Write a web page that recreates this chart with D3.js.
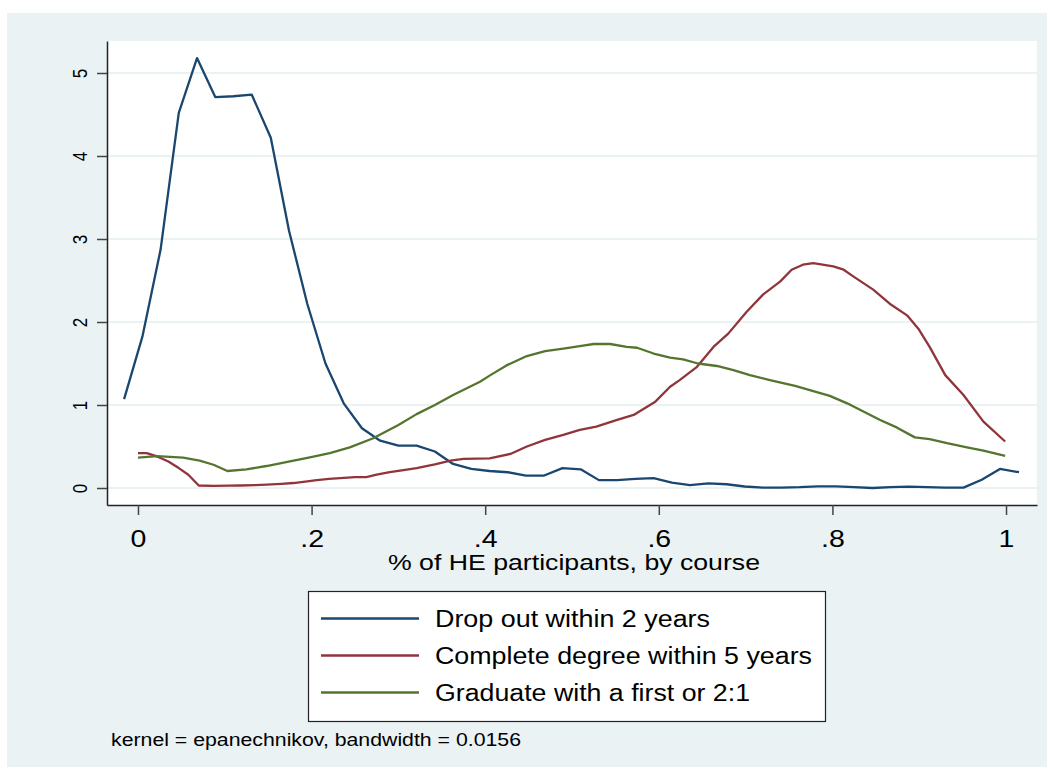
<!DOCTYPE html>
<html>
<head>
<meta charset="utf-8">
<script src="https://cdn.jsdelivr.net/npm/d3@7"></script>
<style>
  body { margin: 0; background: #fff; }
  svg { display: block; font-family: "Liberation Sans", Arial, sans-serif; }
</style>
</head>
<body>
<svg id="chart" width="1052" height="774"></svg>
<script>
// kernel density estimates
const dropX = [-0.016, 0.005, 0.026, 0.047, 0.068, 0.089, 0.110, 0.131, 0.153, 0.174,
  0.195, 0.216, 0.237, 0.258, 0.279, 0.300, 0.321, 0.342, 0.363, 0.384,
  0.405, 0.426, 0.447, 0.468, 0.489, 0.510, 0.531, 0.552, 0.573, 0.594,
  0.615, 0.636, 0.657, 0.678, 0.699, 0.720, 0.741, 0.762, 0.783, 0.804,
  0.825, 0.846, 0.867, 0.888, 0.909, 0.930, 0.951, 0.972, 0.993, 1.015]
const dropY = [1.07, 1.82, 2.87, 4.52, 5.18, 4.71, 4.72, 4.74, 4.22, 3.10,
  2.22, 1.50, 1.02, 0.72, 0.57, 0.51, 0.51, 0.44, 0.29, 0.23,
  0.205, 0.19, 0.15, 0.15, 0.24, 0.225, 0.095, 0.095, 0.11, 0.12,
  0.065, 0.035, 0.055, 0.045, 0.018, 0.005, 0.005, 0.01, 0.02, 0.02,
  0.01, 0.0, 0.01, 0.016, 0.01, 0.004, 0.004, 0.10, 0.23, 0.19]

const completeX = [0.000, 0.010, 0.022, 0.035, 0.047, 0.058, 0.070, 0.087, 0.105, 0.118,
  0.135, 0.148, 0.165, 0.179, 0.195, 0.206, 0.220, 0.233, 0.250, 0.263,
  0.275, 0.290, 0.302, 0.321, 0.342, 0.360, 0.375, 0.405, 0.429, 0.448,
  0.469, 0.490, 0.509, 0.528, 0.552, 0.571, 0.596, 0.613, 0.624, 0.644,
  0.663, 0.680, 0.701, 0.720, 0.740, 0.753, 0.766, 0.778, 0.801, 0.813,
  0.824, 0.847, 0.866, 0.886, 0.899, 0.912, 0.930, 0.951, 0.974, 0.999]
const completeY = [0.42, 0.42, 0.38, 0.32, 0.24, 0.16, 0.03, 0.025, 0.028, 0.03,
  0.035, 0.04, 0.05, 0.06, 0.08, 0.095, 0.11, 0.12, 0.13, 0.13,
  0.16, 0.19, 0.21, 0.24, 0.285, 0.33, 0.35, 0.357, 0.41, 0.50,
  0.58, 0.64, 0.70, 0.74, 0.82, 0.88, 1.04, 1.22, 1.30, 1.46,
  1.70, 1.86, 2.12, 2.33, 2.49, 2.63, 2.69, 2.71, 2.67, 2.63,
  2.55, 2.39, 2.22, 2.08, 1.92, 1.70, 1.36, 1.12, 0.80, 0.56]

const firstX = [0.000, 0.022, 0.052, 0.071, 0.087, 0.103, 0.125, 0.148, 0.175, 0.198,
  0.221, 0.244, 0.271, 0.300, 0.321, 0.342, 0.363, 0.394, 0.406, 0.425,
  0.448, 0.469, 0.490, 0.509, 0.525, 0.544, 0.563, 0.575, 0.594, 0.613,
  0.628, 0.645, 0.667, 0.686, 0.705, 0.728, 0.757, 0.774, 0.797, 0.817,
  0.834, 0.855, 0.874, 0.895, 0.912, 0.932, 0.955, 0.974, 0.999]
const firstY = [0.365, 0.385, 0.365, 0.33, 0.28, 0.205, 0.225, 0.265, 0.32, 0.37,
  0.42, 0.49, 0.60, 0.76, 0.89, 1.00, 1.12, 1.28, 1.36, 1.48,
  1.59, 1.65, 1.68, 1.71, 1.735, 1.735, 1.70, 1.69, 1.62, 1.57,
  1.55, 1.50, 1.47, 1.42, 1.36, 1.30, 1.23, 1.18, 1.11, 1.02,
  0.93, 0.82, 0.73, 0.61, 0.59, 0.54, 0.49, 0.45, 0.386]

const seriesNames = ['Drop out within 2 years', 'Complete degree within 5 years', 'Graduate with a first or 2:1']
const xTicks = [0, 0.2, 0.4, 0.6, 0.8, 1]
const xTickLabels = ['0', '.2', '.4', '.6', '.8', '1']
const yTicks = [0, 1, 2, 3, 4, 5]
const xTitle = '% of HE participants, by course'
const note = 'kernel = epanechnikov, bandwidth = 0.0156'

const colors = ['#1a476f', '#90353b', '#55752f'],
      bg = '#eaf2f3',
      stretch = 1.24   // the picture's text looks widened sideways

const svg = d3.select('#chart')

// outer stata-ish frame
svg.append('rect')
   .attr('x', 7).attr('y', 13)
   .attr('width', 1040).attr('height', 754)
   .style('fill', bg)

const plotLeft = 107, plotRight = 1037, plotTop = 41, plotBottom = 505

svg.append('rect')
   .attr('x', plotLeft).attr('y', plotTop)
   .attr('width', plotRight - plotLeft).attr('height', plotBottom - plotTop)
   .style('fill', '#fff')

//scales
const xScale = d3.scaleLinear()
                 .domain([-0.0357, 1.0357])
                 .range([plotLeft, plotRight])

const yScale = d3.scaleLinear()
                 .domain([-0.2048, 5.3855])
                 .range([plotBottom, plotTop])

//grid
svg.append('g')
   .selectAll('line')
   .data(yTicks)
   .join('line')
   .attr('x1', plotLeft).attr('x2', plotRight)
   .attr('y1', d => yScale(d)).attr('y2', d => yScale(d))
   .style('stroke', bg)
   .style('stroke-width', 2)

//axes
const xAxis = svg.append('g')
                 .attr('transform', `translate(0, ${plotBottom})`)
                 .call(d3.axisBottom(xScale)
                         .tickValues(xTicks)
                         .tickSize(10)
                         .tickSizeOuter(0)
                         .tickFormat((d, i) => xTickLabels[i]))
xAxis.select('.domain').style('stroke', '#222').style('stroke-width', 1.5)
xAxis.selectAll('.tick line').style('stroke', '#444').style('stroke-width', 1.5)
xAxis.selectAll('.tick text')
     .attr('y', 0).attr('dy', 0)
     .attr('transform', `translate(0, 41.5) scale(${stretch}, 1)`)
     .style('font-size', '23px')
     .style('fill', '#000')
     .style('font-family', '"Liberation Sans", Arial, sans-serif')

const yAxis = svg.append('g')
                 .attr('transform', `translate(${plotLeft}, 0)`)
                 .call(d3.axisLeft(yScale)
                         .tickValues(yTicks)
                         .tickSize(10)
                         .tickSizeOuter(0)
                         .tickFormat(d3.format('d')))
yAxis.select('.domain').style('stroke', '#222').style('stroke-width', 1.5)
yAxis.selectAll('.tick line').style('stroke', '#444').style('stroke-width', 1.5)
yAxis.selectAll('.tick text')
     .attr('x', null).attr('dy', null)
     .attr('transform', `translate(-20.3, 0) scale(${stretch}, 1) rotate(-90)`)
     .attr('text-anchor', 'middle')
     .style('font-size', '17px')
     .style('fill', '#000')
     .style('font-family', '"Liberation Sans", Arial, sans-serif')

svg.append('text')
   .attr('x', 574)
   .attr('y', 570)
   .attr('text-anchor', 'middle')
   .attr('textLength', 372)
   .attr('lengthAdjust', 'spacingAndGlyphs')
   .style('font-size', '22px')
   .text(xTitle)

//lines
const series = [
  {name: seriesNames[0], x: dropX, y: dropY, w: 275},
  {name: seriesNames[1], x: completeX, y: completeY, w: 377},
  {name: seriesNames[2], x: firstX, y: firstY, w: 315}
]

const line = d3.line()
               .x(d => xScale(d[0]))
               .y(d => yScale(d[1]))

svg.append('g')
   .selectAll('path')
   .data(series)
   .join('path')
   .attr('d', s => line(s.x.map((v, i) => [v, s.y[i]])))
   .style('fill', 'none')
   .style('stroke', (s, i) => colors[i])
   .style('stroke-width', 2.3)
   .style('stroke-linejoin', 'round')

//legend
svg.append('rect')
   .attr('x', 308.5).attr('y', 591.5)
   .attr('width', 517).attr('height', 130)
   .style('fill', '#fff')
   .style('stroke', '#222')
   .style('stroke-width', 1.2)

const rows = svg.append('g')
                .selectAll('g')
                .data(series)
                .join('g')
                .attr('transform', (d, i) => `translate(0, ${618.5 + i * 37})`)
rows.append('line')
    .attr('x1', 321).attr('x2', 419)
    .style('stroke', (d, i) => colors[i])
    .style('stroke-width', 2.3)
rows.append('text')
    .attr('x', 435).attr('y', 8.2)
    .attr('textLength', d => d.w)
    .attr('lengthAdjust', 'spacingAndGlyphs')
    .style('font-size', '23px')
    .text(d => d.name)

svg.append('text')
   .attr('x', 111).attr('y', 746)
   .attr('textLength', 410)
   .attr('lengthAdjust', 'spacingAndGlyphs')
   .style('font-size', '17.5px')
   .text(note)
</script>
</body>
</html>
